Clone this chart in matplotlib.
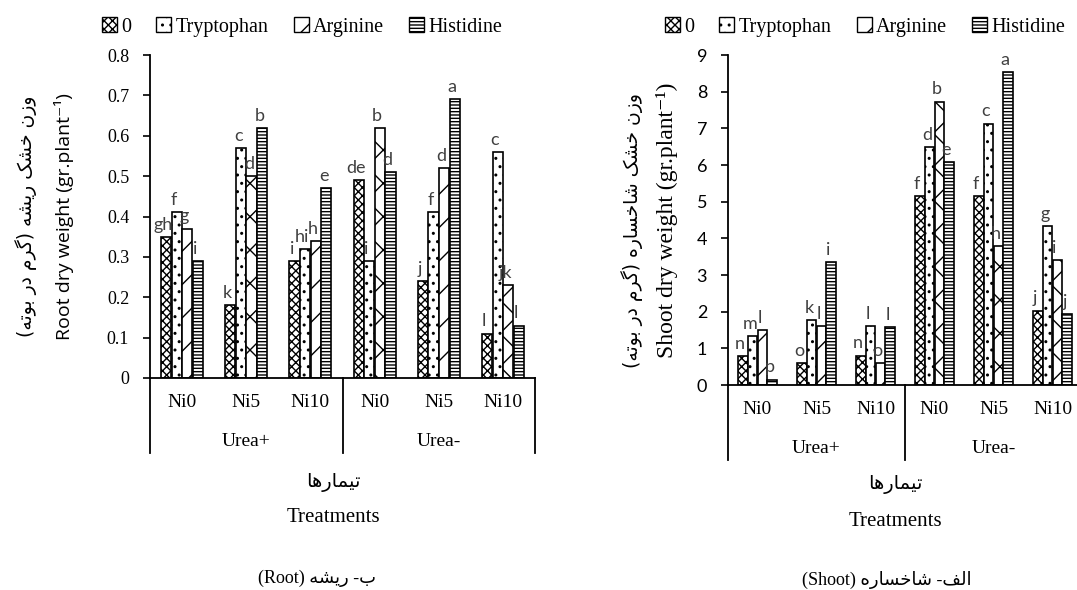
import numpy as np
import matplotlib
matplotlib.use("Agg")
import matplotlib.pyplot as plt
from matplotlib.patches import Patch
from matplotlib.transforms import blended_transform_factory

# ============================================================
# DATA
# ============================================================

treatments = ["0", "Tryptophan", "Arginine", "Histidine"]
ni_levels = ["Ni0", "Ni5", "Ni10", "Ni0", "Ni5", "Ni10"]
urea_levels = ["Urea+", "Urea-"]

# root dry weight (gr/plant), one list per amino acid, 6 groups each
root_0 = [0.35, 0.18, 0.29, 0.49, 0.24, 0.11]
root_trp = [0.41, 0.57, 0.32, 0.29, 0.41, 0.56]
root_arg = [0.37, 0.50, 0.34, 0.62, 0.52, 0.23]
root_his = [0.29, 0.62, 0.47, 0.51, 0.69, 0.13]

root_lab_0 = ["gh", "k", "i", "de", "j", "l"]
root_lab_trp = ["f", "c", "hi", "i", "f", "c"]
root_lab_arg = ["g", "d", "h", "b", "d", "jk"]
root_lab_his = ["i", "b", "e", "d", "a", "l"]

# shoot dry weight (gr/plant)
shoot_0 = [0.78, 0.60, 0.80, 5.15, 5.15, 2.03]
shoot_trp = [1.33, 1.76, 1.60, 6.50, 7.13, 4.33]
shoot_arg = [1.50, 1.60, 0.60, 7.73, 3.80, 3.40]
shoot_his = [0.15, 3.35, 1.57, 6.07, 8.53, 1.93]

shoot_lab_0 = ["n", "o", "n", "f", "f", "j"]
shoot_lab_trp = ["m", "k", "l", "d", "c", "g"]
shoot_lab_arg = ["l", "l", "o", "b", "h", "i"]
shoot_lab_his = ["p", "i", "l", "e", "a", "j"]

# ============================================================
# PERSIAN TEXT (presentation forms, visual order)
# ============================================================

FORMS = {
    "ا": ("\uFE8D", "\uFE8E", None, None),
    "ب": ("\uFE8F", "\uFE90", "\uFE91", "\uFE92"),
    "ت": ("\uFE95", "\uFE96", "\uFE97", "\uFE98"),
    "خ": ("\uFEA5", "\uFEA6", "\uFEA7", "\uFEA8"),
    "د": ("\uFEA9", "\uFEAA", None, None),
    "ر": ("\uFEAD", "\uFEAE", None, None),
    "ز": ("\uFEAF", "\uFEB0", None, None),
    "س": ("\uFEB1", "\uFEB2", "\uFEB3", "\uFEB4"),
    "ش": ("\uFEB5", "\uFEB6", "\uFEB7", "\uFEB8"),
    "ف": ("\uFED1", "\uFED2", "\uFED3", "\uFED4"),
    "ل": ("\uFEDD", "\uFEDE", "\uFEDF", "\uFEE0"),
    "م": ("\uFEE1", "\uFEE2", "\uFEE3", "\uFEE4"),
    "ن": ("\uFEE5", "\uFEE6", "\uFEE7", "\uFEE8"),
    "ه": ("\uFEE9", "\uFEEA", "\uFEEB", "\uFEEC"),
    "و": ("\uFEED", "\uFEEE", None, None),
    "ی": ("\uFBFC", "\uFBFD", "\uFBFE", "\uFBFF"),
    "ک": ("\uFB8E", "\uFB8F", "\uFB90", "\uFB91"),
    "گ": ("\uFB92", "\uFB93", "\uFB94", "\uFB95"),
}
RIGHT_ONLY = set("ادرزو")


def shape(text):
    out = []
    for i, c in enumerate(text):
        if c not in FORMS:
            out.append(c)
            continue
        prev = text[i - 1] if i > 0 else None
        nxt = text[i + 1] if i + 1 < len(text) else None
        join_prev = prev in FORMS and prev not in RIGHT_ONLY
        join_next = nxt in FORMS and c not in RIGHT_ONLY
        iso, fin, ini, med = FORMS[c]
        if join_prev and join_next:
            out.append(med)
        elif join_prev:
            out.append(fin)
        elif join_next:
            out.append(ini)
        else:
            out.append(iso)
    return "".join(out)


def rtl(text):
    s = shape(text)[::-1]
    return s.translate(str.maketrans("()", ")("))


# ============================================================
# STYLE
# ============================================================

plt.rcParams["hatch.linewidth"] = 1.0
SERIF = "Liberation Serif"
SANS = "Lato"
ARAB = ["DejaVu Sans"]
LABEL_COLOR = "#404040"

fig = plt.figure(figsize=(10.77, 5.9), dpi=100)

hatch_0 = "xxxx"
hatch_trp = ".."
hatch_his = "-----"
W = 0.165
offsets = [-1.5, -0.5, 0.5, 1.5]


def draw_panel(ax, series, labels, arg_hatches, ymax, yticks, tick_font,
               tick_fmt, ylabel_en, ylabel_en_font, ylabel_fs, box_drop):
    x = np.arange(6) + 0.5
    hatches = [[hatch_0] * 6, [hatch_trp] * 6, arg_hatches, [hatch_his] * 6]
    for k in range(4):
        for g in range(6):
            ax.bar(x[g] + offsets[k] * W, series[k][g], width=W * 0.96,
                   color="white", edgecolor="black", linewidth=1.2,
                   hatch=hatches[k][g], zorder=2)
            ax.annotate(labels[k][g], (x[g] + offsets[k] * W, series[k][g]),
                        xytext=(-2, 3), textcoords="offset points",
                        ha="center", va="bottom", fontsize=13,
                        family=SANS, color=LABEL_COLOR, zorder=3)

    ax.set_xlim(0, 6)
    ax.set_ylim(0, ymax)
    ax.set_yticks(yticks)
    ax.set_yticklabels([tick_fmt(v) for v in yticks], family=tick_font,
                       fontsize=13)
    ax.tick_params(axis="y", direction="out", length=5, width=1.2, pad=10)
    ax.set_xticks([])
    for s in ["top", "right"]:
        ax.spines[s].set_visible(False)
    ax.spines["left"].set_linewidth(1.3)
    ax.spines["bottom"].set_linewidth(1.3)
    ax.spines["left"].set_bounds(0, ymax)

    # multi-level category axis
    tr = blended_transform_factory(ax.transData, ax.transAxes)
    for xv in [0, 3, 6]:
        ax.plot([xv, xv], [0, -box_drop], transform=tr, color="black",
                lw=1.3, clip_on=False)
    for g in range(6):
        ax.text(x[g], -box_drop * 0.33, ni_levels[g], transform=tr,
                ha="center", va="center", family=SERIF, fontsize=14)
    for u in range(2):
        ax.text(1.5 + 3 * u, -box_drop * 0.85, urea_levels[u], transform=tr,
                ha="center", va="center", family=SERIF, fontsize=14)

    ax.set_ylabel(ylabel_en, family=[ylabel_en_font, "DejaVu Sans"],
                  fontsize=ylabel_fs)
    return ax


# ------------------------------------------------------------
# ROOT panel (left)
# ------------------------------------------------------------
ax1 = fig.add_axes([150 / 1077, 1 - 378 / 590, 385 / 1077, 323 / 590])
draw_panel(ax1, [root_0, root_trp, root_arg, root_his],
           [root_lab_0, root_lab_trp, root_lab_arg, root_lab_his],
           ["/", "x", "/", "x", "/", "x"], 0.8,
           [0, 0.1, 0.2, 0.3, 0.4, 0.5, 0.6, 0.7, 0.8], SERIF,
           lambda v: "0" if v == 0 else f"{v:.1f}",
           "Root dry weight (gr.plant\u207b\u00b9)", "Open Sans",
           14, 75 / 323)
ax1.yaxis.set_label_coords((74 - 150) / 385, 0.5)

# ------------------------------------------------------------
# SHOOT panel (right)
# ------------------------------------------------------------
ax2 = fig.add_axes([728 / 1077, 1 - 385 / 590, 354 / 1077, 330 / 590])
draw_panel(ax2, [shoot_0, shoot_trp, shoot_arg, shoot_his],
           [shoot_lab_0, shoot_lab_trp, shoot_lab_arg, shoot_lab_his],
           ["/", "/", "/", "x", "x", "x"], 9,
           list(range(10)), SANS, lambda v: f"{v}",
           "Shoot dry weight (gr.plant\u207b\u00b9)", SERIF,
           17, 75 / 330)
ax2.yaxis.set_label_coords((678 - 728) / 354, 0.5)

# Persian y labels
fig.text(26 / 1077, 1 - 216 / 590, rtl("وزن خشک ریشه (گرم در بوته)"),
         rotation=90, ha="center", va="center", family=ARAB, fontsize=13.5)
fig.text(632 / 1077, 1 - 230 / 590, rtl("وزن خشک شاخساره (گرم در بوته)"),
         rotation=90, ha="center", va="center", family=ARAB, fontsize=13.5)

# x titles
for cx, cy_fa, cy_en in [(333, 482, 518), (895, 485, 522)]:
    fig.text(cx / 1077, 1 - cy_fa / 590, rtl("تیمارها"), ha="center",
             va="center", family=ARAB, fontsize=14)
    fig.text(cx / 1077, 1 - cy_en / 590, "Treatments", ha="center",
             va="center", family=SERIF, fontsize=15)

# panel captions
fig.text(317 / 1077, 1 - 578 / 590, "(Root) " + rtl("ب- ریشه"),
         ha="center", va="center", family=[SERIF, "DejaVu Sans"], fontsize=13)
fig.text(887 / 1077, 1 - 580 / 590, "(Shoot) " + rtl("الف- شاخساره"),
         ha="center", va="center", family=[SERIF, "DejaVu Sans"], fontsize=13)

# legends
for ax, cx in [(ax1, 302), (ax2, 865)]:
    handles = [
        Patch(facecolor="white", edgecolor="black", hatch=hatch_0),
        Patch(facecolor="white", edgecolor="black", hatch=hatch_trp),
        Patch(facecolor="white", edgecolor="black", hatch="/"),
        Patch(facecolor="white", edgecolor="black", hatch=hatch_his),
    ]
    fig.legend(handles, treatments, loc="center",
               bbox_to_anchor=(cx / 1077, 1 - 27 / 590), ncol=4,
               frameon=False, prop={"family": SERIF, "size": 14.5},
               handlelength=0.75, handleheight=0.75, handletextpad=0.2,
               columnspacing=1.25, borderaxespad=0)

fig.savefig("out.png", dpi=100)
